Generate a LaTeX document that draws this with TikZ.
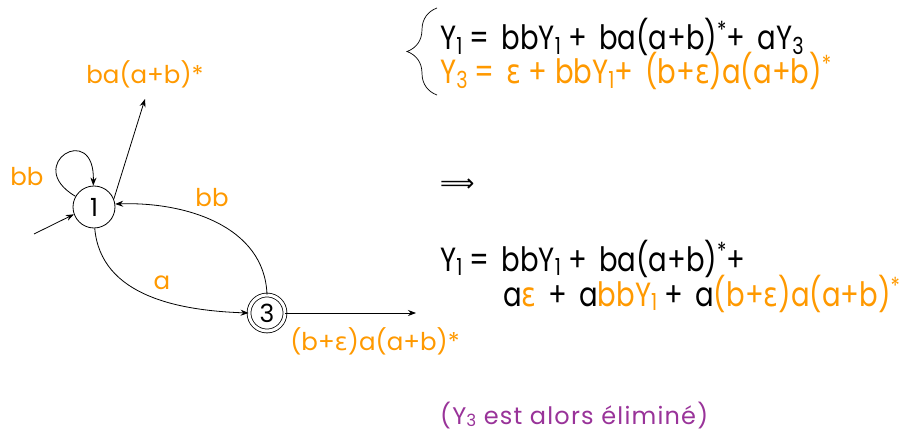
\documentclass[tikz,border=0pt]{standalone}
\usepackage{fontspec}
\usepackage{graphicx}
\setmainfont{Poppins}
\newfontfamily\greekfont{DejaVu Sans}
\usetikzlibrary{arrows.meta,decorations.pathreplacing}
\definecolor{orng}{RGB}{255,153,0}
\definecolor{purp}{RGB}{153,51,153}
\newcommand{\eps}{{\greekfont ε}}
\newcommand{\sub}[1]{\raisebox{-0.12em}{\scalebox{0.7}{#1}}}
\newcommand{\stp}{\textsuperscript{*}}
\newcommand{\tall}[1]{\scalebox{1}[1.22]{#1}}
\begin{document}
\begin{tikzpicture}[x=1pt,y=-1pt,
  state/.style={circle,draw,line width=0.8pt,minimum size=42pt,inner sep=0pt,font=\fontsize{25}{25}\selectfont},
  edge/.style={line width=0.8pt,-{Stealth[length=8pt,width=6pt]}},
  lbl/.style={text=orng,font=\fontsize{24.5}{24.5}\selectfont,inner sep=0pt},
  eq/.style={anchor=base west,inner sep=0pt,font=\fontsize{27.5}{27.5}\selectfont}]
\useasboundingbox (0,0) rectangle (908,433);

% automaton
\node[state] (n1) at (94,207) {1};
\node[state,double,double distance=3pt,minimum size=36pt] (n3) at (267,313) {3};
\coordinate (start) at (34,234);
\coordinate (up) at (145,99);
\coordinate (out) at (416,313);

\draw[edge] (start) -- (n1.200);
\draw[edge] (n1.150) .. controls (22,165) and (95,120) .. (n1.92);
\draw[edge] (n1.22) -- (up);
\draw[edge] (n3.north) to[out=92,in=2] (n1.8);
\draw[edge] (n1.272) to[out=-85,in=178] (n3.west);
\draw[edge] (n3.east) -- (out);

\node[lbl] (lbb1) at (27,177) {bb};
\node[lbl] (lba) at (145,74) {ba(a+b)*};
\node[lbl] (lbb3) at (212,198) {bb};
\node[lbl] (la) at (162,283) {a};
\node[lbl] (lout) at (375,341) {(b+\eps)a(a+b)*};

% system of equations
\draw[line width=0.7pt,decorate,decoration={brace,amplitude=30pt,aspect=0.5}] (437,95) -- (437,8);
\node[eq] (e1) at (440,50) {\tall{Y\sub{1} = \,bbY\sub{1} + \,ba(a+b)\stp+ \,aY\sub{3}}};
\node[eq,text=orng] (e2) at (440,84) {\tall{Y\sub{3} = \,\eps{} + bbY\sub{1}+ \,(b+\eps)a(a+b)\stp}};

\node[eq,font=\greekfont\fontsize{24}{24}\selectfont] (impl) at (440,192) {⟹};

\node[eq] (e3) at (440,271) {\tall{Y\sub{1} = \,bbY\sub{1} + \,ba(a+b)\stp+}};
\node[eq] (e4) at (503,306) {\tall{a\textcolor{orng}{\eps} \,+ \,a\textcolor{orng}{bbY\sub{1}} + \,a\textcolor{orng}{(b+\eps)a(a+b)\stp}}};

\node[eq,text=purp,font=\fontsize{24}{24}\selectfont\addfontfeature{LetterSpace=5}] (note) at (440,424) {(Y\sub{3} est alors éliminé)};
\end{tikzpicture}
\end{document}
